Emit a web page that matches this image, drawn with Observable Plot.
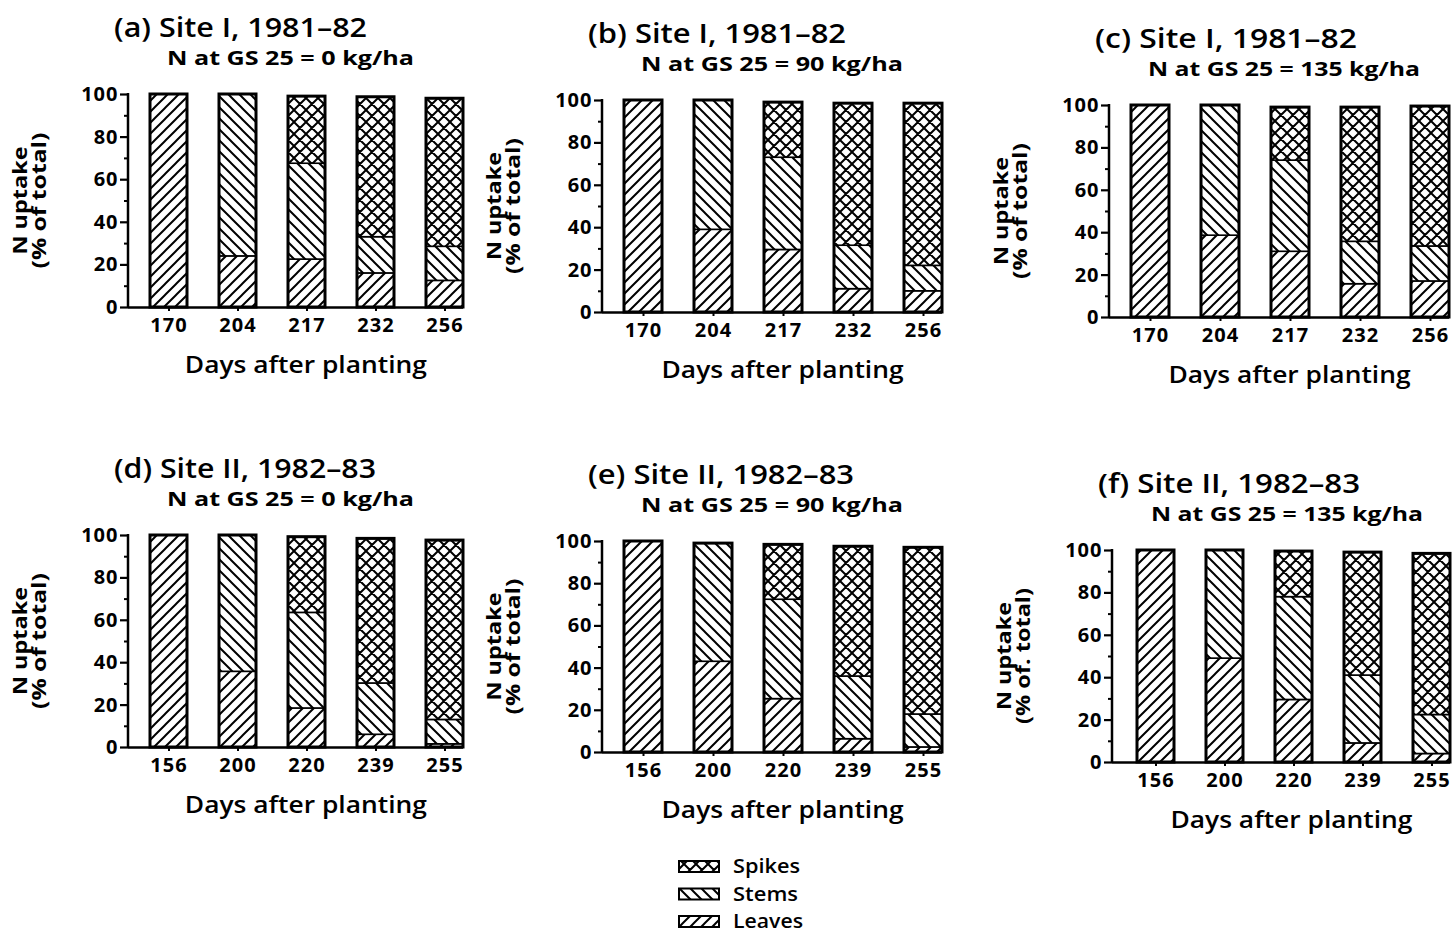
<!DOCTYPE html>
<html><head><meta charset="utf-8">
<script src="https://cdn.jsdelivr.net/npm/d3@7"></script>
<script src="https://cdn.jsdelivr.net/npm/@observablehq/plot@0.6"></script>
<style>
html,body{margin:0;padding:0;background:#fff;overflow:hidden;}
#root{position:relative;width:1456px;height:933px;}
#root svg{position:absolute;}
</style></head><body><div id="root"></div>
<script>
// ---------- data ----------
const daysSiteI = ["170", "204", "217", "232", "256"];
const daysSiteII = ["156", "200", "220", "239", "255"];
const components = ["Leaves", "Stems", "Spikes"];
const legendOrder = ["Spikes", "Stems", "Leaves"];
const panelTitles = ["(a) Site I, 1981–82", "(b) Site I, 1981–82", "(c) Site I, 1981–82",
                     "(d) Site II, 1982–83", "(e) Site II, 1982–83", "(f) Site II, 1982–83"];
const panelSubtitles = ["N at GS 25 = 0 kg/ha", "N at GS 25 = 90 kg/ha", "N at GS 25 = 135 kg/ha",
                        "N at GS 25 = 0 kg/ha", "N at GS 25 = 90 kg/ha", "N at GS 25 = 135 kg/ha"];
const yLabelLine1 = "N uptake";
const yLabelLine2 = ["(% of total)", "(% of total)", "(% of total)", "(% of total)", "(% of total)", "(% of. total)"];
const xLabel = "Days after planting";
const yTicks = [0, 20, 40, 60, 80, 100];
const yMinorTicks = [10, 30, 50, 70, 90];

// N uptake, % of total, per plant part (leaves bottom, stems middle, spikes top)
const leavesA = [100, 24, 22.5, 16, 12.5];
const stemsA  = [0, 76, 45, 17, 16];
const spikesA = [0, 0, 31.5, 65.7, 69.5];

const leavesB = [100, 39, 29.5, 11, 10];
const stemsB  = [0, 61, 43.5, 20.5, 12];
const spikesB = [0, 0, 26, 67, 76.5];

const leavesC = [100, 38.6, 31, 15.7, 17];
const stemsC  = [0, 61.4, 43, 20, 16.5];
const spikesC = [0, 0, 25, 63.3, 66];

const leavesD = [100, 35.7, 18.4, 6, 1.5];
const stemsD  = [0, 64.3, 45.1, 24.2, 11.5];
const spikesD = [0, 0, 35.7, 68.2, 84.6];

const leavesE = [100, 43, 25.3, 6.3, 2.4];
const stemsE  = [0, 56, 47.1, 29.7, 15.6];
const spikesE = [0, 0, 26, 61.5, 79];

const leavesF = [100, 49, 29.5, 9, 4];
const stemsF  = [0, 51, 48.5, 32, 18.4];
const spikesF = [0, 0, 21.5, 58, 76];

const panelDays = [daysSiteI, daysSiteI, daysSiteI, daysSiteII, daysSiteII, daysSiteII];
const panelLeaves = [leavesA, leavesB, leavesC, leavesD, leavesE, leavesF];
const panelStems = [stemsA, stemsB, stemsC, stemsD, stemsE, stemsF];
const panelSpikes = [spikesA, spikesB, spikesC, spikesD, spikesE, spikesF];

// ---------- layout (frame positions on the page, text widths) ----------
const frames = [
  {left: 128, right: 463, top: 94, bottom: 307},
  {left: 602, right: 942, top: 100, bottom: 312},
  {left: 1109, right: 1449, top: 105, bottom: 317},
  {left: 128, right: 463, top: 535, bottom: 747},
  {left: 602, right: 942, top: 541, bottom: 752},
  {left: 1112, right: 1450, top: 550, bottom: 762}
];
const titleWidths = [253, 258, 262, 262, 266, 262];
const subtitleWidths = [247, 262, 272, 247, 262, 272];
const legendWidths = [67, 65, 70];
const FONT = "'Open Sans', 'DejaVu Sans', sans-serif";
const root = document.getElementById("root");

// overlay svg with patterns and text
const overlay = d3.select(root).append("svg")
  .attr("width", 1456).attr("height", 933)
  .style("left", "0px").style("top", "0px")
  .attr("font-family", FONT);

const defs = overlay.append("defs");
function hatch(id, size, d) {
  const p = defs.append("pattern").attr("id", id)
    .attr("patternUnits", "userSpaceOnUse")
    .attr("width", size).attr("height", size);
  p.append("rect").attr("width", size).attr("height", size).attr("fill", "white");
  p.append("path").attr("d", d).attr("stroke", "black").attr("stroke-width", 2).attr("fill", "none");
}
{
  const s = 11, q = s / 4;
  hatch("pat-Leaves", s, `M0,${s}L${s},0M${-q},${q}L${q},${-q}M${s - q},${s + q}L${s + q},${s - q}`);
  hatch("pat-Stems", s, `M0,0L${s},${s}M${-q},${s - q}L${q},${s + q}M${s - q},${-q}L${s + q},${q}`);
  const t = 12, r = t / 4;
  hatch("pat-Spikes", t, `M0,${t}L${t},0M${-r},${r}L${r},${-r}M${t - r},${t + r}L${t + r},${t - r}` +
                         `M0,0L${t},${t}M${-r},${t - r}L${r},${t + r}M${t - r},${-r}L${t + r},${r}`);
}

function fitText(sel, w) {
  return sel.attr("textLength", w).attr("lengthAdjust", "spacingAndGlyphs");
}

const mL = 62, mR = 6, mT = 8, mB = 40;

frames.forEach((f, i) => {
  const days = panelDays[i];
  const rows = [];
  days.forEach((day, j) => {
    const vals = [panelLeaves[i][j], panelStems[i][j], panelSpikes[i][j]];
    components.forEach((c, k) => { if (vals[k] > 0) rows.push({day, component: c, value: vals[k]}); });
  });

  const chart = Plot.plot({
    width: mL + (f.right - f.left) + mR,
    height: mT + (f.bottom - f.top) + mB,
    marginLeft: mL, marginRight: mR, marginTop: mT, marginBottom: mB,
    style: {fontFamily: FONT, fontSize: "20px", fontWeight: 700, letterSpacing: "1px", background: "transparent", overflow: "visible", color: "black"},
    x: {domain: days, paddingInner: 0.46, paddingOuter: 0.15, align: 1, label: null},
    y: {domain: [0, 100], label: null},
    color: {domain: components, range: components.map(c => `url(#pat-${c})`)},
    marks: [
      Plot.barY(rows, {x: "day", y: "value", fill: "component", stroke: "black", strokeWidth: 1.6}),
      Plot.barY(rows, Plot.groupX({y: "sum"}, {x: "day", y: "value", fill: "none", stroke: "black", strokeWidth: 3})),
      Plot.ruleY([0], {strokeWidth: 2.5}),
      Plot.axisY({ticks: yTicks, tickSize: 8, tickPadding: 2, strokeWidth: 2.2}),
      Plot.axisY({ticks: yMinorTicks, tickSize: 4, tickFormat: () => "", strokeWidth: 2}),
      Plot.axisX({tickSize: 4, tickPadding: 6, strokeWidth: 2}),
      (index, scales, values, dims) => {
        const g = d3.create("svg:line")
          .attr("x1", dims.marginLeft).attr("x2", dims.marginLeft)
          .attr("y1", scales.y(100) - 1).attr("y2", scales.y(0) + 1)
          .attr("stroke", "black").attr("stroke-width", 2.5);
        return g.node();
      }
    ]
  });
  chart.style.left = (f.left - mL) + "px";
  chart.style.top = (f.top - mT) + "px";
  root.appendChild(chart);

  // texts
  fitText(overlay.append("text").attr("x", f.left - 14).attr("y", f.top - 57)
    .attr("font-size", 27).attr("font-weight", 600).text(panelTitles[i]), titleWidths[i]);
  fitText(overlay.append("text").attr("x", f.left + 39).attr("y", f.top - 29)
    .attr("font-size", 19).attr("font-weight", 700).text(panelSubtitles[i]), subtitleWidths[i]);
  const cy = (f.top + f.bottom) / 2;
  fitText(overlay.append("text").attr("transform", `translate(${f.left - 101},${cy}) rotate(-90)`)
    .attr("text-anchor", "middle").attr("font-size", 19).attr("font-weight", 700).text(yLabelLine1), 108);
  fitText(overlay.append("text").attr("transform", `translate(${f.left - 82},${cy}) rotate(-90)`)
    .attr("text-anchor", "middle").attr("font-size", 19).attr("font-weight", 700).text(yLabelLine2[i]), 136);
  const bx = f.left + (f.right - f.left) * 0.3 / 4.84 / 2 + (f.right - f.left) / 2;
  fitText(overlay.append("text").attr("x", bx).attr("y", f.bottom + 66)
    .attr("text-anchor", "middle").attr("font-size", 24).attr("font-weight", 600).text(xLabel), 242);
});

// legend
legendOrder.forEach((c, k) => {
  const y = 861 + k * 27.5;
  overlay.append("rect").attr("x", 679).attr("y", y).attr("width", 40).attr("height", 11)
    .attr("fill", `url(#pat-${c})`).attr("stroke", "black").attr("stroke-width", 2);
  fitText(overlay.append("text").attr("x", 733).attr("y", y + 12).attr("font-size", 19)
    .attr("font-weight", 600).text(c), legendWidths[k]);
});
</script></body></html>
